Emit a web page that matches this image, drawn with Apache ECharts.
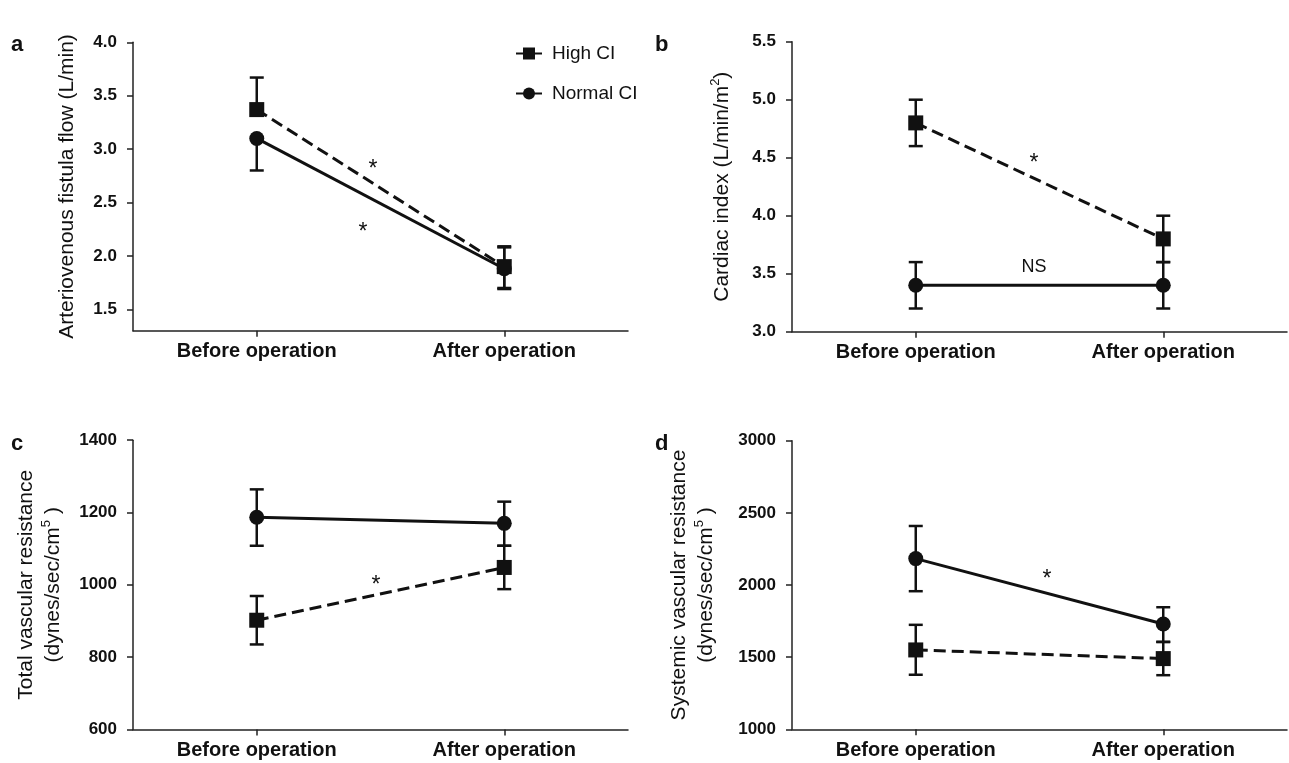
<!DOCTYPE html>
<html>
<head>
<meta charset="utf-8">
<script src="https://cdn.jsdelivr.net/npm/echarts@6/dist/echarts.min.js"></script>
<style>html,body{margin:0;padding:0;background:#fff}#chart{width:1289px;height:763px}</style>
</head>
<body>
<div id="chart"></div>
<script>
// ---------- data ----------
const categories = ['Before operation', 'After operation'];
const groupNames = ['High CI', 'Normal CI'];

// panel a: Arteriovenous fistula flow (L/min)
const aTicks = [1.5, 2.0, 2.5, 3.0, 3.5, 4.0];
const aHigh = [3.37, 1.90];
const aHighLow = [3.37, 1.70];
const aHighUp = [3.67, 2.09];
const aNormal = [3.10, 1.88];
const aNormalLow = [2.80, 1.69];
const aNormalUp = [3.10, 2.08];

// panel b: Cardiac index (L/min/m2)
const bTicks = [3.0, 3.5, 4.0, 4.5, 5.0, 5.5];
const bHigh = [4.80, 3.80];
const bHighLow = [4.60, 3.60];
const bHighUp = [5.00, 4.00];
const bNormal = [3.40, 3.40];
const bNormalLow = [3.20, 3.20];
const bNormalUp = [3.60, 3.60];

// panel c: Total vascular resistance
const cTicks = [600, 800, 1000, 1200, 1400];
const cHigh = [902, 1048];
const cHighLow = [835, 988];
const cHighUp = [969, 1108];
const cNormal = [1187, 1170];
const cNormalLow = [1108, 1108];
const cNormalUp = [1264, 1230];

// panel d: Systemic vascular resistance
const dTicks = [1000, 1500, 2000, 2500, 3000];
const dHigh = [1550, 1490];
const dHighLow = [1378, 1375];
const dHighUp = [1724, 1605];
const dNormal = [2183, 1730];
const dNormalLow = [1957, 1606];
const dNormalUp = [2409, 1846];

// ---------- styling ----------
const FONT = "'Liberation Sans', Arial, Helvetica, sans-serif";
const INK = '#111';
const AXIS = '#222';

const panels = [
  { ticks: aTicks, min: 1.3, max: 4.0, dec: 1, high: aHigh, hLo: aHighLow, hUp: aHighUp, normal: aNormal, nLo: aNormalLow, nUp: aNormalUp,
    grid: { left: 133, top: 42.3, width: 495, height: 288.4 },
    name: 'Arteriovenous fistula flow (L/min)', nameGap: 52 },
  { ticks: bTicks, min: 3.0, max: 5.5, dec: 1, high: bHigh, hLo: bHighLow, hUp: bHighUp, normal: bNormal, nLo: bNormalLow, nUp: bNormalUp,
    grid: { left: 792, top: 41.7, width: 495, height: 290 },
    name: 'Cardiac index (L/min/m{sup|2})', nameGap: 56 },
  { ticks: cTicks, min: 600, max: 1400, dec: 0, high: cHigh, hLo: cHighLow, hUp: cHighUp, normal: cNormal, nLo: cNormalLow, nUp: cNormalUp,
    grid: { left: 133, top: 440.2, width: 495, height: 289.2 },
    name: 'Total vascular resistance\n(dynes/sec/cm{sup|5} )', nameGap: 66 },
  { ticks: dTicks, min: 1000, max: 3000, dec: 0, high: dHigh, hLo: dHighLow, hUp: dHighUp, normal: dNormal, nLo: dNormalLow, nUp: dNormalUp,
    grid: { left: 792, top: 440.7, width: 495, height: 288.6 },
    name: 'Systemic vascular resistance\n(dynes/sec/cm{sup|5} )', nameGap: 72 }
];

function errRender(params, api) {
  const x = api.value(0), lo = api.value(1), hi = api.value(2), v = api.value(3);
  const pLo = api.coord([x, lo]);
  const pHi = api.coord([x, hi]);
  const half = 7;
  const st = { stroke: INK, lineWidth: 2.5 };
  const children = [
    { type: 'line', shape: { x1: pLo[0], y1: pLo[1], x2: pHi[0], y2: pHi[1] }, style: st }
  ];
  if (hi !== v) children.push({ type: 'line', shape: { x1: pHi[0] - half, y1: pHi[1], x2: pHi[0] + half, y2: pHi[1] }, style: st });
  if (lo !== v) children.push({ type: 'line', shape: { x1: pLo[0] - half, y1: pLo[1], x2: pLo[0] + half, y2: pLo[1] }, style: st });
  return { type: 'group', children };
}

const grids = [], xAxes = [], yAxes = [], series = [];
panels.forEach((p, i) => {
  grids.push(Object.assign({ containLabel: false, outerBoundsMode: 'none' }, p.grid));
  xAxes.push({
    type: 'category', gridIndex: i, data: categories, boundaryGap: true,
    axisLine: { show: true, lineStyle: { color: AXIS, width: 1.5 } },
    axisTick: { show: true, alignWithLabel: true, length: 6, lineStyle: { color: AXIS, width: 1.5 } },
    axisLabel: { color: INK, fontFamily: FONT, fontSize: 20, fontWeight: 'bold', margin: 11 },
    splitLine: { show: false }
  });
  yAxes.push({
    type: 'value', gridIndex: i, min: p.min, max: p.max,
    axisLine: { show: true, lineStyle: { color: AXIS, width: 1.5 } },
    axisTick: { show: true, length: 6, customValues: p.ticks, lineStyle: { color: AXIS, width: 1.5 } },
    axisLabel: { customValues: p.ticks, color: INK, fontFamily: FONT, fontSize: 17, fontWeight: 'bold', margin: 16,
      formatter: (v) => v.toFixed(p.dec) },
    splitLine: { show: false },
    name: p.name, nameLocation: 'middle', nameGap: p.nameGap, nameRotate: 90,
    nameTextStyle: { color: INK, fontFamily: FONT, fontSize: 21, lineHeight: 27, align: 'center',
      rich: { sup: { fontSize: 13, fontFamily: FONT, color: INK, verticalAlign: 'top', lineHeight: 14 } } }
  });
  series.push({
    type: 'custom', xAxisIndex: i, yAxisIndex: i, renderItem: errRender, z: 1, silent: true,
    data: categories.map((c, k) => [k, p.nLo[k], p.nUp[k], p.normal[k]])
  });
  series.push({
    type: 'custom', xAxisIndex: i, yAxisIndex: i, renderItem: errRender, z: 1, silent: true,
    data: categories.map((c, k) => [k, p.hLo[k], p.hUp[k], p.high[k]])
  });
  series.push({
    name: groupNames[1], type: 'line', xAxisIndex: i, yAxisIndex: i, data: p.normal, z: 3,
    symbol: 'circle', symbolSize: 15, showAllSymbol: true,
    lineStyle: { color: INK, width: 3 }, itemStyle: { color: INK }
  });
  series.push({
    name: groupNames[0], type: 'line', xAxisIndex: i, yAxisIndex: i, data: p.high, z: 4,
    symbol: 'rect', symbolSize: 15, showAllSymbol: true,
    lineStyle: { color: INK, width: 3, type: [12, 6] }, itemStyle: { color: INK }
  });
});

// annotation texts
const annotations = [
  { text: '*', x: 373, y: 170 }, { text: '*', x: 363, y: 233 },
  { text: '*', x: 1034, y: 164 }, { text: 'NS', x: 1034, y: 267, size: 18 },
  { text: '*', x: 376, y: 586 }, { text: '*', x: 1047, y: 580 }
];
const panelLetters = [
  { text: 'a', x: 11, y: 45 }, { text: 'b', x: 655, y: 45 },
  { text: 'c', x: 11, y: 444 }, { text: 'd', x: 655, y: 444 }
];

const graphic = annotations.map(a => ({
  type: 'text', silent: true, position: [a.x, a.y],
  style: { text: a.text, fill: INK, font: (a.size || 23) + 'px ' + FONT, textAlign: 'center', textVerticalAlign: 'middle' }
})).concat(panelLetters.map(l => ({
  type: 'text', silent: true, position: [l.x, l.y],
  style: { text: l.text, fill: INK, font: 'bold 22px ' + FONT, textAlign: 'left', textVerticalAlign: 'middle' }
})));

const chart = echarts.init(document.getElementById('chart'), null, { renderer: 'canvas' });
chart.setOption({
  animation: false,
  backgroundColor: '#fff',
  grid: grids, xAxis: xAxes, yAxis: yAxes, series: series,
  legend: {
    data: groupNames, orient: 'vertical', left: 510, top: 39, itemGap: 21,
    itemWidth: 26, itemHeight: 15,
    lineStyle: { type: 'solid' },
    textStyle: { color: INK, fontFamily: FONT, fontSize: 19, padding: [0, 0, 0, 5] }
  },
  graphic: graphic
});
</script>
</body>
</html>
